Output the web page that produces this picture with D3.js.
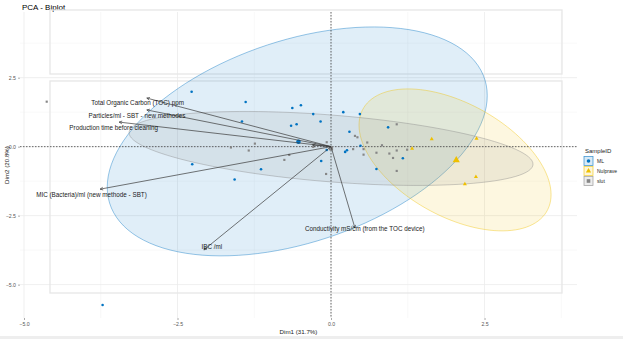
<!DOCTYPE html>
<html><head><meta charset="utf-8">
<script src="https://cdn.jsdelivr.net/npm/d3@7"></script>
<style>body{margin:0;background:#fff}svg{display:block;font-family:"Liberation Sans",Arial,sans-serif}</style>
</head><body><svg id="c" width="623" height="339"></svg>
<script>
// ---- data ----
const groups = ["ML", "Nulprave", "slut"];
const groupColors = ["#0073C2", "#EFC000", "#868686"];
const mlX = [-2.27,-1.39,-0.63,-0.49,-0.29,-1.45,-0.65,-0.56,-0.17,-0.07,-0.16,-2.26,-1.14,-1.57,0.23,0.26,0.30,0.20,0.47,0.93,0.48,0.74,1.17,-3.72];
const mlY = [1.99,1.62,1.40,1.50,1.18,0.91,0.76,0.81,0.91,-0.12,-0.52,-0.64,-0.82,-1.19,-0.19,-0.13,0.54,1.25,1.18,0.70,0.03,-0.81,-0.42,-5.74];
const nulX = [1.64,2.37,1.32,2.36,2.18];
const nulY = [0.27,0.29,-0.07,-1.09,-1.36];
const slutX = [1.07,0.39,0.43,0.59,0.83,-0.07,0.36,0.53,0.53,0.74,0.95,1.07,1.24,1.01,1.07,-0.08,-1.24,-1.63,-1.34,-0.68,-0.76,-0.29,-4.63];
const slutY = [0.81,0.39,0.34,0.15,0.05,0.16,-0.09,-0.09,-0.29,-0.22,-0.25,-0.14,-0.11,-0.41,-0.88,-0.99,0.11,-0.03,-0.14,-0.30,-0.48,-0.01,1.63];
const meanX = [-0.53, 2.04, 0.0];
const meanY = [0.18, -0.49, -0.06];
// ellipse (covariance form, data units)
const ellCx = [-0.55, 2.02, 0.0];
const ellCy = [0.19, -0.48, -0.065];
const ellSxx = [9.575, 2.445, 10.82];
const ellSyy = [17.21, 6.617, 1.797];
const ellSxy = [5.135, -1.969, -1.878];
// variables
const varNames = ["Total Organic Carbon (TOC) ppm","Particles/ml - SBT - new methodes","Production time before cleaning","MIC (Bacteria)/ml (new methode - SBT)","IBC /ml","Conductivity mS/cm (from the TOC device)","Hardness"];
const varX = [-3.00,-3.00,-3.45,-3.76,-2.07,0.39,-0.30];
const varY = [1.76,1.33,0.89,-1.54,-3.74,-2.95,0.06];
const varLabX = [-3.15,-3.16,-3.54,-3.90,-1.94,0.55,null];
const varLabY = [1.60,1.14,0.71,-1.75,-3.62,-2.96,null];
const xTicks = [-5.0,-2.5,0.0,2.5];
const yTicks = [-5.0,-2.5,0.0,2.5];
const xMinor = [-3.75,-1.25,1.25,3.75];
const yMinor = [-3.75,-1.25,1.25,3.75];

// ---- layout ----
const svg = d3.select("#c");
const L = 20, R = 577, T = 12, B = 318;
const x = d3.scaleLinear().domain([-5.065, 4.006]).range([L, R]);
const y = d3.scaleLinear().domain([-6.21, 4.88]).range([B, T]);

svg.append("text").attr("x", 22).attr("y", 10).attr("font-size", 8).attr("fill", "#000").text("PCA - Biplot");

// grid
const g = svg.append("g");
g.selectAll(".mnx").data(xMinor).join("line").attr("x1", d=>x(d)).attr("x2", d=>x(d)).attr("y1", T).attr("y2", B).attr("stroke", "#f1f1f1").attr("stroke-width", 0.5);
g.selectAll(".mny").data(yMinor).join("line").attr("y1", d=>y(d)).attr("y2", d=>y(d)).attr("x1", L).attr("x2", R).attr("stroke", "#f1f1f1").attr("stroke-width", 0.5);
g.selectAll(".mjx").data(xTicks).join("line").attr("x1", d=>x(d)).attr("x2", d=>x(d)).attr("y1", T).attr("y2", B).attr("stroke", "#ebebeb").attr("stroke-width", 0.8);
g.selectAll(".mjy").data(yTicks).join("line").attr("y1", d=>y(d)).attr("y2", d=>y(d)).attr("x1", L).attr("x2", R).attr("stroke", "#ebebeb").attr("stroke-width", 0.8);

// background boxes
svg.append("rect").attr("x", 50).attr("y", 10).attr("width", 512).attr("height", 64).attr("fill", "none").attr("stroke", "#e6e6e6").attr("stroke-width", 1.3);
svg.append("rect").attr("x", 50).attr("y", 81).attr("width", 512).attr("height", 212).attr("fill", "none").attr("stroke", "#e6e6e6").attr("stroke-width", 1.3);

// axes ticks & labels
const ax = d3.axisBottom(x).tickValues(xTicks).tickFormat(d3.format(".1f")).tickSize(2).tickPadding(2);
const axg = svg.append("g").attr("transform", `translate(0,${B})`).call(ax);
const ay = d3.axisLeft(y).tickValues(yTicks).tickFormat(d3.format(".1f")).tickSize(2).tickPadding(2);
const ayg = svg.append("g").attr("transform", `translate(${L},0)`).call(ay);
[axg, ayg].forEach(a => { a.select(".domain").remove(); a.selectAll("line").attr("stroke", "#555").attr("stroke-width", 0.5); a.selectAll("text").attr("font-size", 5.2).attr("fill", "#555").attr("font-family", "Liberation Sans, Arial, sans-serif"); });
svg.append("text").attr("x", (L+R)/2).attr("y", 334).attr("text-anchor", "middle").attr("font-size", 6.2).attr("fill", "#222").text("Dim1 (31.7%)");
svg.append("text").attr("transform", `translate(9,${(T+B)/2}) rotate(-90)`).attr("text-anchor", "middle").attr("font-size", 6.2).attr("fill", "#222").text("Dim2 (20.8%)");

// ellipses
function ellPath(i) {
  const a = Math.sqrt(ellSxx[i]), b = ellSxy[i] / a, c = Math.sqrt(ellSyy[i] - b*b);
  const pts = d3.range(0, 361, 3).map(t => { const r = t*Math.PI/180; const u = Math.cos(r), v = Math.sin(r); return [x(ellCx[i] + a*u), y(ellCy[i] + b*u + c*v)]; });
  return d3.line()(pts) + "Z";
}
groups.forEach((gname, i) => {
  svg.append("path").attr("d", ellPath(i)).attr("fill", groupColors[i]).attr("fill-opacity", 0.12).attr("stroke", groupColors[i]).attr("stroke-opacity", 0.45).attr("stroke-width", 0.9);
});

// dashed zero lines
svg.append("line").attr("x1", L).attr("x2", R).attr("y1", y(0)).attr("y2", y(0)).attr("stroke", "#444").attr("stroke-width", 0.8).attr("stroke-dasharray", "1.5,1.5");
svg.append("line").attr("x1", x(0)).attr("x2", x(0)).attr("y1", T).attr("y2", B).attr("stroke", "#444").attr("stroke-width", 0.8).attr("stroke-dasharray", "1.5,1.5");

// points
const ptsG = svg.append("g");
function drawPts(xs, ys, i, size) {
  const col = groupColors[i];
  xs.forEach((vx, k) => {
    const px = x(vx), py = y(ys[k]);
    if (i === 0) ptsG.append("circle").attr("cx", px).attr("cy", py).attr("r", size).attr("fill", col);
    else if (i === 1) ptsG.append("path").attr("d", d3.symbol(d3.symbolTriangle, size*size*4.2)()).attr("transform", `translate(${px},${py})`).attr("fill", col);
    else ptsG.append("rect").attr("x", px-size*0.9).attr("y", py-size*0.9).attr("width", size*1.8).attr("height", size*1.8).attr("fill", col);
  });
}
drawPts(mlX, mlY, 0, 1.3);
drawPts(nulX, nulY, 1, 1.3);
drawPts(slutX, slutY, 2, 1.2);
meanX.forEach((mx, i) => drawPts([mx], [meanY[i]], i, 2.3));

// arrows
const arG = svg.append("g");
varX.forEach((vx, i) => {
  const x0 = x(0), y0 = y(0), x1 = x(vx), y1 = y(varY[i]);
  arG.append("line").attr("x1", x0).attr("y1", y0).attr("x2", x1).attr("y2", y1).attr("stroke", "#3a3a3a").attr("stroke-width", 0.7);
  const ang = Math.atan2(y1 - y0, x1 - x0), h = 3.2, w = 0.45;
  const p1 = [x1 - h*Math.cos(ang - w), y1 - h*Math.sin(ang - w)], p2 = [x1 - h*Math.cos(ang + w), y1 - h*Math.sin(ang + w)];
  arG.append("path").attr("d", `M${p1}L${x1},${y1}L${p2}`).attr("fill", "none").attr("stroke", "#3a3a3a").attr("stroke-width", 0.7);
  if (varLabX[i] !== null) {
    svg.append("text").attr("x", x(varLabX[i])).attr("y", y(varLabY[i])).attr("text-anchor", "middle").attr("dominant-baseline", "central").attr("font-size", 6.3).attr("fill", "#1a1a1a").text(varNames[i]);
  }
});

// legend
const lg = svg.append("g");
lg.append("text").attr("x", 585).attr("y", 153).attr("font-size", 6).attr("fill", "#222").text("SampleID");
groups.forEach((gname, i) => {
  const cy = 161 + i*10;
  lg.append("rect").attr("x", 584).attr("y", cy-4.5).attr("width", 9).attr("height", 9).attr("fill", groupColors[i]).attr("fill-opacity", 0.15).attr("stroke", groupColors[i]).attr("stroke-opacity", 0.7).attr("stroke-width", 0.8);
  const px = 588.5;
  if (i === 0) lg.append("circle").attr("cx", px).attr("cy", cy).attr("r", 1.8).attr("fill", groupColors[i]);
  else if (i === 1) lg.append("path").attr("d", d3.symbol(d3.symbolTriangle, 12)()).attr("transform", `translate(${px},${cy})`).attr("fill", groupColors[i]);
  else lg.append("rect").attr("x", px-1.8).attr("y", cy-1.8).attr("width", 3.6).attr("height", 3.6).attr("fill", groupColors[i]);
  lg.append("text").attr("x", 597).attr("y", cy).attr("dominant-baseline", "central").attr("font-size", 5).attr("fill", "#222").text(gname);
});

// bottom band
svg.append("rect").attr("x", 0).attr("y", 336).attr("width", 623).attr("height", 3).attr("fill", "#eeeeee");
</script></body></html>
